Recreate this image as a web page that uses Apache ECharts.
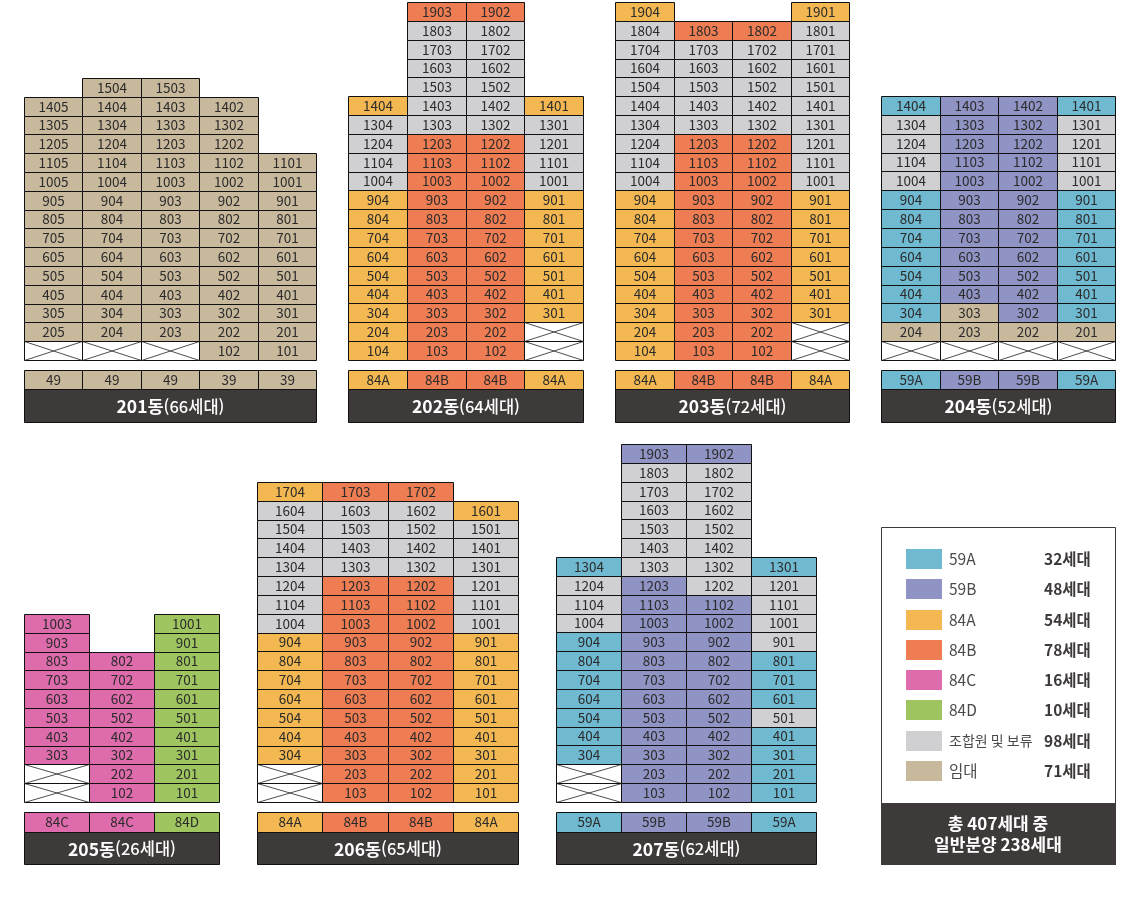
<!DOCTYPE html>
<html lang="ko">
<head>
<meta charset="utf-8">
<title>동별 세대 배치도</title>
<script src="https://cdn.jsdelivr.net/npm/echarts@6/dist/echarts.min.js"></script>
<style>
  html, body { margin: 0; padding: 0; background: #fff; }
  #chart { width: 1140px; height: 901px; }
</style>
</head>
<body>
<div id="chart"></div>
<script>
// ─── Datos ─────────────────────────────────────────────────────────────────────
// A=59A B=59B C=84A D=84B E=84C F=84D G=조합원 및 보류 R=임대 X=없음(엑스) .=빈칸

const legendCodes  = ['A', 'B', 'C', 'D', 'E', 'F', 'G', 'R']
const legendNames  = ['59A', '59B', '84A', '84B', '84C', '84D', '조합원 및 보류', '임대']
const legendCounts = ['32세대', '48세대', '54세대', '78세대', '16세대', '10세대', '98세대', '71세대']
const footerLines  = ['총 407세대 중', '일반분양 238세대']

const lines201 = ['05', '04', '03', '02', '01']
const units201 = ['49', '49', '49', '39', '39']
const codes201 = ['R', 'R', 'R', 'R', 'R']
const rows201 = [
  '.RR..', 'RRRR.', 'RRRR.', 'RRRR.', 'RRRRR',
  'RRRRR', 'RRRRR', 'RRRRR', 'RRRRR', 'RRRRR',
  'RRRRR', 'RRRRR', 'RRRRR', 'RRRRR', 'XXXRR',
]

const lines202 = ['04', '03', '02', '01']
const units202 = ['84A', '84B', '84B', '84A']
const codes202 = ['C', 'D', 'D', 'C']
const rows202 = [
  '.DD.', '.GG.', '.GG.', '.GG.', '.GG.',
  'CGGC', 'GGGG', 'GDDG', 'GDDG', 'GDDG',
  'CDDC', 'CDDC', 'CDDC', 'CDDC', 'CDDC',
  'CDDC', 'CDDC', 'CDDX', 'CDDX',
]

const lines203 = ['04', '03', '02', '01']
const units203 = ['84A', '84B', '84B', '84A']
const codes203 = ['C', 'D', 'D', 'C']
const rows203 = [
  'C..C', 'GDDG', 'GGGG', 'GGGG', 'GGGG',
  'GGGG', 'GGGG', 'GDDG', 'GDDG', 'GDDG',
  'CDDC', 'CDDC', 'CDDC', 'CDDC', 'CDDC',
  'CDDC', 'CDDC', 'CDDX', 'CDDX',
]

const lines204 = ['04', '03', '02', '01']
const units204 = ['59A', '59B', '59B', '59A']
const codes204 = ['A', 'B', 'B', 'A']
const rows204 = [
  'ABBA', 'GBBG', 'GBBG', 'GBBG', 'GBBG',
  'ABBA', 'ABBA', 'ABBA', 'ABBA', 'ABBA',
  'ABBA', 'ARBA', 'RRRR', 'XXXX',
]

const lines205 = ['03', '02', '01']
const units205 = ['84C', '84C', '84D']
const codes205 = ['E', 'E', 'F']
const rows205 = [
  'E.F', 'E.F', 'EEF', 'EEF', 'EEF',
  'EEF', 'EEF', 'EEF', 'XEF', 'XEF',
]

const lines206 = ['04', '03', '02', '01']
const units206 = ['84A', '84B', '84B', '84A']
const codes206 = ['C', 'D', 'D', 'C']
const rows206 = [
  'CDD.', 'GGGC', 'GGGG', 'GGGG', 'GGGG',
  'GDDG', 'GDDG', 'GDDG', 'CDDC', 'CDDC',
  'CDDC', 'CDDC', 'CDDC', 'CDDC', 'CDDC',
  'XDDC', 'XDDC',
]

const lines207 = ['04', '03', '02', '01']
const units207 = ['59A', '59B', '59B', '59A']
const codes207 = ['A', 'B', 'B', 'A']
const rows207 = [
  '.BB.', '.GG.', '.GG.', '.GG.', '.GG.',
  '.GG.', 'AGGA', 'GBGG', 'GBBG', 'GBBG',
  'ABBG', 'ABBA', 'ABBA', 'ABBA', 'ABBG',
  'ABBA', 'ABBA', 'XBBA', 'XBBA',
]

// ─── Estilo y layout ───────────────────────────────────────────────────────────

const FONT = '"Noto Sans CJK KR", "Noto Sans", sans-serif'
const DARK = '#3e3a39'
const INK  = '#2b2b2b'

const colorByCode = {
  A: '#6fb9d1', B: '#8f94c4', C: '#f3b851', D: '#ef7d53',
  E: '#de6bab', F: '#9ec560', G: '#d0d0d3', R: '#c8b99d', X: '#ffffff',
}

const buildings = [
  { name: '201동', count: '(66세대)', lines: lines201, units: units201, codes: codes201, rows: rows201, left: 24,  right: 316,  top: 78,  bottom: 360, typeTop: 370, typeBottom: 389, end: 422 },
  { name: '202동', count: '(64세대)', lines: lines202, units: units202, codes: codes202, rows: rows202, left: 348, right: 583,  top: 2,   bottom: 360, typeTop: 370, typeBottom: 389, end: 422 },
  { name: '203동', count: '(72세대)', lines: lines203, units: units203, codes: codes203, rows: rows203, left: 615, right: 849,  top: 2,   bottom: 360, typeTop: 370, typeBottom: 389, end: 422 },
  { name: '204동', count: '(52세대)', lines: lines204, units: units204, codes: codes204, rows: rows204, left: 881, right: 1115, top: 96,  bottom: 360, typeTop: 370, typeBottom: 389, end: 422 },
  { name: '205동', count: '(26세대)', lines: lines205, units: units205, codes: codes205, rows: rows205, left: 24,  right: 219,  top: 614, bottom: 802, typeTop: 812, typeBottom: 832, end: 864 },
  { name: '206동', count: '(65세대)', lines: lines206, units: units206, codes: codes206, rows: rows206, left: 257, right: 518,  top: 482, bottom: 802, typeTop: 812, typeBottom: 832, end: 864 },
  { name: '207동', count: '(62세대)', lines: lines207, units: units207, codes: codes207, rows: rows207, left: 556, right: 816,  top: 444, bottom: 802, typeTop: 812, typeBottom: 832, end: 864 },
]

const legendBox = { left: 881, right: 1116, top: 527, bottom: 865, footerTop: 803, gridLeft: 906, gridTop: 544, gridBottom: 786 }

// ─── Series ────────────────────────────────────────────────────────────────────

function cellRenderer(cells) {
  return (params, api) => {
    const cell = cells[params.dataIndex]
    const [cx, cy] = api.coord([api.value(0), api.value(1)])
    const [w, h] = api.size([1, 1])
    const x0 = Math.round(cx - w / 2) + 0.5
    const x1 = Math.round(cx + w / 2) + 0.5
    const y0 = Math.round(cy - h / 2) + 0.5
    const y1 = Math.round(cy + h / 2) + 0.5
    const children = [{
      type: 'rect',
      shape: { x: x0, y: y0, width: x1 - x0, height: y1 - y0 },
      style: { fill: colorByCode[cell.code], stroke: '#111', lineWidth: 1 },
    }]
    if (cell.code === 'X') {
      children.push(
        { type: 'line', shape: { x1: x0, y1: y0, x2: x1, y2: y1 }, style: { stroke: '#222', lineWidth: 0.8 } },
        { type: 'line', shape: { x1: x0, y1: y1, x2: x1, y2: y0 }, style: { stroke: '#222', lineWidth: 0.8 } },
      )
    } else {
      children.push({
        type: 'text',
        style: {
          x: (x0 + x1) / 2, y: (y0 + y1) / 2 - 0.5, text: cell.label, align: 'center', verticalAlign: 'middle',
          fontFamily: FONT, fontSize: 13.5, fill: INK,
        },
      })
    }
    return { type: 'group', children }
  }
}

function hiddenAxis(gridIndex, data) {
  return { type: 'category', gridIndex, data, show: false }
}

const grids = []
const xAxes = []
const yAxes = []
const series = []

function addCustom(cells, grid, xData, yData, render) {
  const gridIndex = grids.length
  grids.push(grid)
  xAxes.push(hiddenAxis(gridIndex, xData))
  yAxes.push(hiddenAxis(gridIndex, yData))
  series.push({
    type: 'custom', xAxisIndex: gridIndex, yAxisIndex: gridIndex, silent: true, clip: false,
    encode: { x: 0, y: 1 },
    data: cells.map(c => [c.col, c.row]),
    renderItem: render,
  })
}

buildings.forEach(b => {
  const floors = b.rows.map((_, i) => String(b.rows.length - i))
  const floorAxis = [...floors].reverse()
  const cells = []
  b.rows.forEach((row, r) => {
    const rowIdx = floorAxis.indexOf(floors[r])
    row.split('').forEach((code, col) => {
      if (code === '.') return
      cells.push({ col, row: rowIdx, code, label: floors[r] + b.lines[col] })
    })
  })
  addCustom(
    cells,
    { left: b.left, top: b.top, width: b.right - b.left, height: b.bottom - b.top, containLabel: false },
    b.lines, floorAxis, cellRenderer(cells),
  )

  const typeCells = b.units.map((label, col) => ({ col, row: 0, code: b.codes[col], label }))
  addCustom(
    typeCells,
    { left: b.left, top: b.typeTop, width: b.right - b.left, height: b.typeBottom - b.typeTop, containLabel: false },
    b.lines, ['type'], cellRenderer(typeCells),
  )
})

// Leyenda: una fila por tipo, muestra de color + nombre + número de 세대
const legendAxis = [...legendNames].reverse()
const legendCells = legendCodes.map((code, i) => ({ col: 0, code, name: legendNames[i], count: legendCounts[i], row: legendAxis.indexOf(legendNames[i]) }))
addCustom(
  legendCells,
  { left: legendBox.gridLeft, top: legendBox.gridTop, width: 36, height: legendBox.gridBottom - legendBox.gridTop, containLabel: false },
  ['swatch'], legendAxis,
  (params, api) => {
    const cell = legendCells[params.dataIndex]
    const [cx, cy] = api.coord([api.value(0), api.value(1)])
    return {
      type: 'group',
      children: [
        { type: 'rect', shape: { x: cx - 18, y: Math.round(cy) - 10, width: 36, height: 20 }, style: { fill: colorByCode[cell.code] } },
        { type: 'text', style: { x: cx + 25, y: cy, text: cell.name, verticalAlign: 'middle', fontFamily: FONT, fontSize: cell.name.length > 4 ? 14 : 15.5, fill: '#4a4a4a' } },
        { type: 'text', style: { x: cx + 120, y: cy, text: cell.count, verticalAlign: 'middle', fontFamily: FONT, fontSize: 15.5, fontWeight: 700, fill: DARK } },
      ],
    }
  },
)

// ─── Rótulos fijos ─────────────────────────────────────────────────────────────

const titleBars = buildings.flatMap(b => [
  { type: 'rect', z: 5, shape: { x: b.left + 0.5, y: b.typeBottom + 0.5, width: b.right - b.left, height: b.end - b.typeBottom }, style: { fill: DARK, stroke: '#111', lineWidth: 1 } },
  {
    type: 'text', z: 6, x: (b.left + b.right) / 2 + 0.5, y: (b.typeBottom + b.end) / 2 + 1,
    style: {
      text: `{b|${b.name}}{n|${b.count}}`, align: 'center', verticalAlign: 'middle', fill: '#fff',
      rich: {
        b: { fontFamily: FONT, fontSize: 17.5, fontWeight: 700, fill: '#fff' },
        n: { fontFamily: FONT, fontSize: 16.5, fontWeight: 500, fill: '#fff' },
      },
    },
  },
])

const legendFrame = [
  { type: 'rect', z: 1, shape: { x: legendBox.left + 0.5, y: legendBox.top + 0.5, width: legendBox.right - legendBox.left - 1, height: legendBox.bottom - legendBox.top - 1 }, style: { fill: '#fff', stroke: DARK, lineWidth: 1 } },
  { type: 'rect', z: 5, shape: { x: legendBox.left, y: legendBox.footerTop, width: legendBox.right - legendBox.left, height: legendBox.bottom - legendBox.footerTop }, style: { fill: DARK } },
  {
    type: 'text', z: 6, x: (legendBox.left + legendBox.right) / 2 - 0.5, y: (legendBox.footerTop + legendBox.bottom) / 2,
    style: { text: footerLines.join('\n'), align: 'center', verticalAlign: 'middle', fontFamily: FONT, fontSize: 17, fontWeight: 700, lineHeight: 21, fill: '#fff' },
  },
]

const chart = echarts.init(document.getElementById('chart'))
chart.setOption({
  animation: false,
  backgroundColor: '#fff',
  textStyle: { fontFamily: FONT },
  grid: grids,
  xAxis: xAxes,
  yAxis: yAxes,
  series,
  graphic: { elements: [...legendFrame, ...titleBars] },
})
</script>
</body>
</html>
